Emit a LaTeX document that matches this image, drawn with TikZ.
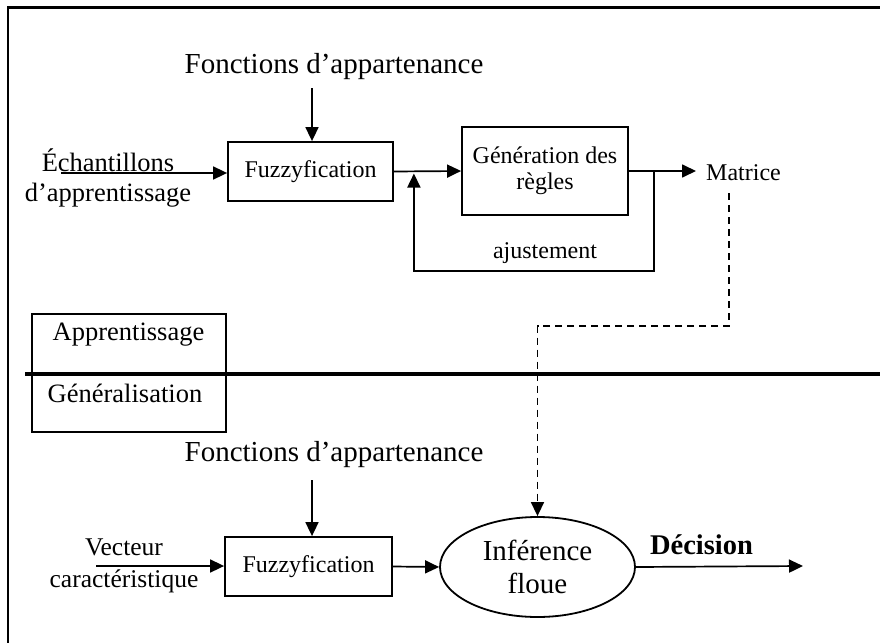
\documentclass[tikz,border=0pt]{standalone}
\usepackage{fontspec}
\setmainfont{Liberation Serif}
\usetikzlibrary{arrows.meta,shapes.geometric,calc}
\begin{document}
\begin{tikzpicture}[x=1pt,y=-1pt,
  box/.style={draw,line width=1.8pt,inner sep=0pt,align=center,font=\fontsize{24}{26}\selectfont},
  lbl/.style={inner sep=0pt,align=center},
  arr/.style={line width=1.7pt,-{Triangle[length=14pt,width=13pt]}},
  dsh/.style={line width=1.5pt,dash pattern=on 7pt off 5pt,-{Triangle[length=14pt,width=13pt]}}]
\useasboundingbox (0,0) rectangle (880,642);
\clip (0,0) rectangle (880,642);
% outer frame (cropped at right and bottom)
\draw[line width=2.2pt] (8,660) -- (8,7.5) -- (900,7.5);

% ---------- learning part ----------
\node[lbl,font=\fontsize{29}{32}\selectfont] (fa1) at (334,67) {Fonctions d’appartenance};
\node[box,minimum width=165,minimum height=59] (fz1) at (310.5,171.5) {Fuzzyfication};
\node[lbl,font=\fontsize{26.5}{30}\selectfont] (ech) at (108,178) {Échantillons\\d’apprentissage};
\node[box,minimum width=166,minimum height=88] (gen) at (545,171) {Génération des\\règles};
\node[lbl,anchor=west,font=\fontsize{24}{26}\selectfont] (mat) at (706,173) {Matrice};
\node[lbl,font=\fontsize{24}{26}\selectfont] (aj) at (545,253) {ajustement};

\coordinate (fa1s) at (312,88);
\coordinate (echs) at (61,173);
\coordinate (jl) at ($(fz1.east)+(20,0)$);
\coordinate (jr) at ($(gen.east)+(25,0)$);
\coordinate (ds) at (729,193);

\draw[arr] (fa1s) -- (fz1.north -| fa1s);
\draw[arr] (echs) -- (fz1.west |- echs);
\draw[arr] (fz1.east) -- (gen.west);
\draw[arr,shorten >=10pt] (gen.east) -- (gen.east -| mat.west);
\draw[arr] (jr) -- ++(0,100) -| ([yshift=-2pt]jl);

% ---------- separation ----------
\node[draw,line width=1.8pt,minimum width=194,minimum height=118,inner sep=0pt] (phase) at (129,373) {};
\node[lbl,font=\fontsize{26.5}{30}\selectfont] (app) at (128.5,335) {Apprentissage};
\node[lbl,font=\fontsize{26.5}{30}\selectfont] (gena) at (125,393) {Généralisation};
\draw[line width=3.8pt] (25,374) -- (880,374);

% ---------- generalisation part ----------
\node[lbl,font=\fontsize{29}{32}\selectfont] (fa2) at (334,455) {Fonctions d’appartenance};
\node[box,minimum width=167,minimum height=59] (fz2) at (308.5,566.5) {Fuzzyfication};
\node[lbl,font=\fontsize{25.5}{32}\selectfont] (vec) at (124,566) {Vecteur\\caractéristique};
\node[draw,ellipse,line width=1.8pt,minimum width=195,minimum height=100,inner sep=0pt,align=center,
      font=\fontsize{29}{33}\selectfont] (inf) at (537.5,567) {Inférence\\floue};
\node[lbl,font=\bfseries\fontsize{28.5}{32}\selectfont] (dec) at (701.5,545) {Décision};

\coordinate (fa2s) at (312,480);
\coordinate (vecs) at (96,566);
\coordinate (deco) at (803,566);

\draw[arr] (fa2s) -- (fz2.north -| fa2s);
\draw[arr] (vecs) -- (fz2.west |- vecs);
\draw[arr] (fz2.east) -- (inf.west);
\draw[arr] (inf.east) -- (deco);

\draw[dsh] (ds) -- (729,326) -| (inf.north);
\end{tikzpicture}
\end{document}
